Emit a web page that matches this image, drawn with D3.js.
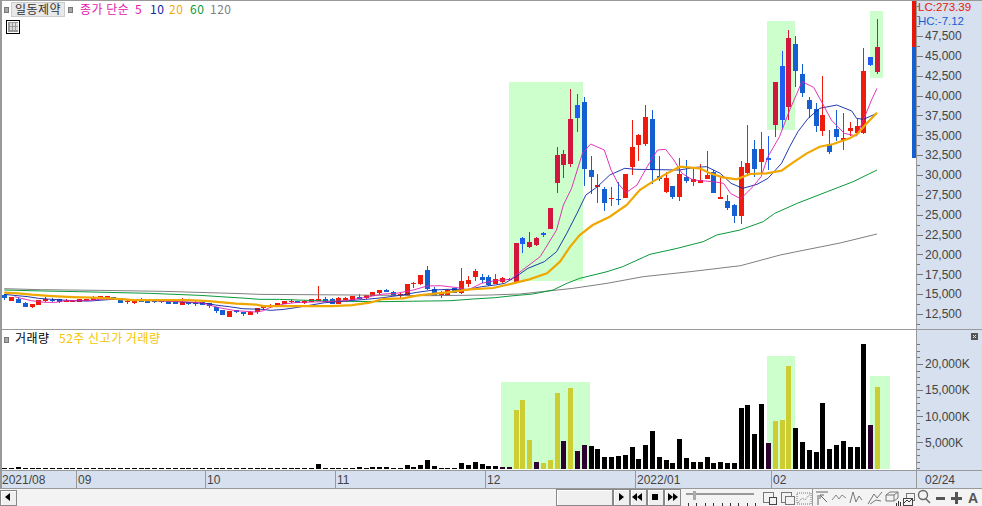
<!DOCTYPE html>
<html><head><meta charset="utf-8">
<script src="https://cdn.jsdelivr.net/npm/d3@7"></script>
<style>
html,body{margin:0;padding:0;background:#fff;overflow:hidden}
svg{display:block}
text{font-family:"Liberation Sans",sans-serif;font-size:12px;fill:#444}
.kr{font-family:"Noto Sans CJK KR",sans-serif;font-size:12px;letter-spacing:.5px}
.axis path{display:none}
.axis line{stroke:#777;shape-rendering:crispEdges}
.axis text{font-family:"Liberation Sans",sans-serif;font-size:12px;fill:#444}
</style></head><body><div id="chart"></div>
<script>
const opens=[14890,14132,14384,13922,13334,13628,14174,14300,14342,14048,
14048,14048,14132,14258,14426,14426,14636,14468,14048,13922,
14258,14132,14216,14174,14132,14132,13670,14006,13922,14006,
13838,13376,12998,12158,12956,12746,12410,12746,13376,13460,
13418,13754,14048,14090,13964,14048,14216,14426,14342,13796,
14384,14258,14636,14510,14762,15140,15518,15224,14888,14888,
16232,16274,18038,15602,14972,14804,15770,15140,16232,17198,
17156,17156,16274,16526,16950,16443,22067,20934,21186,22655,
23201,28992,31259,31385,38813,39191,30629,28489,28237,27020,
27020,27103,31007,33777,33903,37050,29874,27859,28615,27229,
29748,29118,28992,29496,30377,26977,26726,26222,24836,30251,
33273,31636,32097,36294,43723,38561,46493,42716,39442,38309,
35539,33902,35790,34406,35538,35287,35287,44856,42967];
const closes=[14470,14636,13922,13376,13754,14258,14342,14174,14048,14174,
14174,14342,14342,14636,14762,14762,14384,13922,14174,14258,
14174,14048,14090,14048,13796,13796,14048,13796,13796,13670,
13544,12872,12410,12872,12746,12536,12704,13208,13460,13544,
13838,14132,14174,14006,14090,14342,14342,14006,13796,14468,
14510,14720,14510,14846,15266,15476,15308,14762,15014,16274,
16442,17408,15602,14804,15098,15560,15140,16652,16778,17912,
16778,16106,16904,16988,16900,21438,21312,21564,22067,22529,
25803,32518,32644,37050,37176,30755,29748,28741,26474,27146,
26894,30126,33525,35036,37302,30587,29496,29622,27229,30126,
29244,29496,29370,29999,27733,27229,25844,24837,31006,31510,
30755,33273,31972,41709,36924,47248,43094,40323,38309,36168,
37554,32895,34783,34658,35916,36168,43094,43849,46115];
const highs=[14970,14680,14678,13960,13790,14300,14678,14552,14426,14342,
14200,14400,14380,14762,14800,14800,14680,14500,14342,14300,
14510,14342,14342,14258,14174,14150,14468,14040,14216,14030,
13860,13400,13020,12900,12980,12770,12872,13292,13502,13712,
13860,14150,14342,14174,14258,14380,16022,14636,14552,14636,
14636,14740,14972,14870,15290,15500,15644,15392,15182,16300,
16568,17430,18542,15854,15350,15590,15800,18290,17282,18122,
17534,17408,17534,17198,17000,21460,22235,22781,22235,22823,
25830,33525,33147,40828,40198,39820,32392,30126,28531,28531,
29118,30150,36925,35162,38813,38184,32392,30377,28650,32140,
31888,31049,31385,33021,30629,29748,27481,26348,31762,36294,
34406,35413,34909,41750,45612,48256,47500,43975,39820,39064,
42464,35665,38183,37805,36672,37050,45989,44900,49641];
const lows=[14260,14090,13900,13340,13208,13600,14006,14006,13880,13964,
14020,14020,14100,14230,14400,14400,14258,13900,13796,13796,
14006,14006,13922,13922,13770,13760,13650,13670,13544,13650,
13292,12662,12390,12130,12662,12284,12390,12536,12998,13292,
13390,13730,13922,13838,13796,13964,14174,13980,13770,13770,
14258,14240,14342,14384,14740,14930,15290,14740,14552,14860,
15812,16148,15580,14780,14552,14780,15120,15014,15938,16652,
16442,16080,16250,16358,16880,16360,20220,20808,21102,22235,
23180,27733,29622,31049,35414,28615,27607,26474,25467,26096,
26222,27080,30000,31763,33651,28867,29244,27733,26977,26726,
28992,28615,28950,29454,27700,26950,25592,23956,23829,29999,
29789,30293,30629,34783,35790,36924,41121,39820,37134,35413,
34909,32643,34280,33147,34909,35035,35161,43700,42716];
const volumes=[100,100,280,100,100,100,100,100,100,100,
100,100,100,100,100,100,100,100,100,100,
100,100,100,100,100,100,100,100,100,100,
100,100,100,100,100,100,100,100,100,100,
100,100,100,100,100,100,860,100,100,100,
100,100,280,100,280,280,280,100,100,670,
280,670,1630,475,100,100,100,1050,670,1240,
860,475,475,280,280,11230,13150,5470,1240,1050,
1630,14490,5280,15450,3360,4510,4320,3740,2200,2200,
2400,2590,4120,1820,4510,7200,2200,1630,1050,5660,
2010,1240,1240,2200,1050,1240,1050,1050,11610,12190,
6620,12380,4890,9120,9310,19680,7770,5080,3550,3160,
12570,3740,4510,5280,4120,4120,23900,8350,15640];
const newHighVolumeIdx=[75,76,77,79,80,81,83,113,114,115,128];

const ma5Idx=[1.5,2.5,4,6,7.5,9,12,14,17,19,23,26,29,30,32,34,37,38,39,41,43,47,50,53,55.5,57.5,60,62,64,66.5,68,70,72,74.3,76,78.6,81,82,83.2,84.8,86,88,89,90,91.2,92.8,94.3,95.8,97,98.2,99.4,101,104,105.5,106.5,108,109.8,111,112,113.7,115.2,117,118.7,120,121.3,123.2,125,126.3,127.2,128];
const ma5Val=[14678,14468,14174,13964,13964,14174,14174,14342,14426,14258,14132,14048,13922,13628,13208,12914,12746,12914,13334,13754,13964,14048,14174,14594,15014,15098,15518,16022,16064,15812,15518,16358,16700,16863,18038,19717,23075,26222,28321,32728,33903,33147,30629,28951,27775,28741,31049,33147,33231,31888,30209,29370,29160,28951,27691,27000,28529,29789,32307,34826,38183,41751,41037,39022,36924,35245,34909,37553,39442,40911];
const ma10Idx=[0,2,3.5,5,7,10,12.5,14.5,16.5,19,24,27,30,31,33,35,38,39,41,43,45,47,50,53,55.5,58,60.5,63,65,68,70,72,73.4,75.6,76.8,79.2,81,82.5,84,85.3,87,88.8,91,92.7,99,101.4,103,105,106.6,108.3,110.4,112,114,115.2,116.4,117.9,119.6,122.1,124.3,125,126,128];
const ma10Val=[14972,14800,14678,14468,14342,14174,14132,14258,14384,14258,14132,13964,13796,13628,13418,13166,13082,12956,13082,13334,13628,13922,14132,14342,14552,14846,15224,15518,15602,15602,15938,16150,16360,17534,18248,19087,20347,22655,25173,27481,28531,29999,30839,30713,30629,30965,31049,30209,28951,28321,28823,29579,31468,33566,35455,37134,38393,38813,38057,37134,37008,37763];
const ma20Idx=[0,2,4,7,10,13,16,19,27,30,32,34,37,38,48,51,53.6,55.5,58.5,60.5,62.4,65,68.3,71.7,74.6,77,79.6,81.5,83,84.4,86.3,88.8,91.3,93.2,95.1,97.2,99.1,102,103.5,105.4,107.4,109.4,111.8,114,115.5,117.7,119.6,121.6,124,125.2,126.5,128];
const ma20Val=[15182,15098,14930,14762,14636,14552,14426,14258,14258,14132,13964,13796,13670,13502,13502,13628,13922,14384,14468,14804,15014,15224,15602,15770,16360,16863,17618,19087,20976,22445,23704,24753,26222,28111,29160,30209,31049,30839,30209,29706,29454,30125,30209,30545,31468,32727,33566,33902,34616,35245,36504,37847];
const ma60Idx=[0,5.5,11,21.4,28.7,35.6,37.5,40.4,47.3,54.7,65.4,68.7,72,74.2,77.5,80.5,82.5,84.4,88.4,90.7,94.7,98.7,102.5,104.5,107.9,111.3,113,116.3,120.7,124.5,128];
const ma60Val=[15518,15400,15308,15098,14846,14468,14342,14342,14132,14048,14174,14384,14555,14764,15016,15520,16359,16989,17828,18458,20011,20766,21606,22445,23075,24123,25172,26432,27900,29160,30628];
const ma120Idx=[0,5.5,14,23.5,35,37.5,52,62.4,71,75.6,83.4,88.4,93.7,100.6,108,113.8,116.7,122.6,128];
const ma120Val=[15686,15560,15476,15350,15056,14972,14888,14804,14888,15016,15730,16359,17199,17828,18584,19928,20432,21439,22572];

const priceTicks=[12500,15000,17500,20000,22500,25000,27500,30000,32500,35000,37500,40000,42500,45000,47500];
const priceMinor=[11250,13750,16250,18750,21250,23750,26250,28750,31250,33750,36250,38750,41250,43750,46250,48750,50000,51250];
const volumeTicks=[5000,10000,15000,20000];
const volumeMinor=[0,1250,2500,3750,6250,7500,8750,11250,12500,13750,16250,17500,18750,21250,22500,23750];
const dateLabels=["2021/08","09","10","11","12","2022/01","02"];
const dateIdx=[0,10.5,29.5,48.5,70.5,92.5,112.5];
const lastDate="02/24";
const priceZones=[[74,84.9,16692,41709],[111.87,115.97,35666,49390],[126.96,128.87,42212,50648]];
const volumeZones=[[72.85,85.9,16550],[111.87,115.97,21530],[126.96,129.9,17700]];
const rangeBar=[51900,46115,32140];

const W=982,H=506;
const svg=d3.select("#chart").append("svg").attr("width",W).attr("height",H);
const x=d3.scaleLinear().domain([0,128]).range([4.3,877]);
const y=d3.scaleLinear().domain([12500,47500]).range([314,36]);
const yv=d3.scaleLinear().domain([0,20000]).range([468.4,364]);
const n=opens.length;
const inZone=(zs,i)=>zs.some(z=>i>=z[0]&&i<=z[1]);

const rect=(g,a,b,c,d,f)=>g.append("rect").attr("x",a).attr("y",b).attr("width",c).attr("height",d).attr("fill",f).attr("shape-rendering","crispEdges");
const bg=svg.append("g");
rect(bg,0,0,W,H,"#fff");

// highlight zones
const zoneFill="#ccffcc";
svg.append("g").selectAll("rect").data(priceZones).join("rect")
 .attr("x",d=>x(d[0])).attr("width",d=>x(d[1])-x(d[0]))
 .attr("y",d=>y(d[3])).attr("height",d=>y(d[2])-y(d[3])).attr("fill",zoneFill).attr("shape-rendering","crispEdges");
svg.append("g").selectAll("rect").data(volumeZones).join("rect")
 .attr("x",d=>x(d[0])).attr("width",d=>x(d[1])-x(d[0]))
 .attr("y",d=>yv(d[2])).attr("height",d=>469-yv(d[2])).attr("fill",zoneFill).attr("shape-rendering","crispEdges");

// candles
const idx=d3.range(n);
const cColor=i=>{const up=closes[i]>=opens[i],z=inZone(priceZones,i);
 return up?(z?"#d2173f":"#ee1c0c"):(z?"#1f5cf5":"#1560d0");};
const cg=svg.append("g").attr("shape-rendering","crispEdges");
cg.selectAll("line").data(idx).join("line")
 .attr("x1",i=>Math.round(x(i))+.5).attr("x2",i=>Math.round(x(i))+.5)
 .attr("y1",i=>y(highs[i])).attr("y2",i=>y(lows[i])).attr("stroke",cColor).attr("stroke-width",1);
cg.selectAll("rect").data(idx).join("rect")
 .attr("x",i=>Math.round(x(i))-2).attr("width",5)
 .attr("y",i=>y(Math.max(opens[i],closes[i])))
 .attr("height",i=>Math.max(1.5,Math.abs(y(opens[i])-y(closes[i]))))
 .attr("fill",cColor);

// moving averages
const lineGen=d3.line().x(d=>x(d[0])).y(d=>y(d[1]));
[[ma120Idx,ma120Val,"#808080",1],[ma60Idx,ma60Val,"#0a9a3a",1],[ma10Idx,ma10Val,"#0a25a5",.9],[ma5Idx,ma5Val,"#e01fae",.9],[ma20Idx,ma20Val,"#f0a800",2.2]]
.forEach(([a,b,c,w])=>svg.append("path").datum(a.map((v,k)=>[v,b[k]])).attr("d",lineGen).attr("fill","none").attr("stroke",c).attr("stroke-width",w));

// volume bars
svg.append("g").attr("shape-rendering","crispEdges").selectAll("rect").data(idx).join("rect")
 .attr("x",i=>Math.round(x(i))-2).attr("width",5)
 .attr("y",i=>yv(volumes[i])).attr("height",i=>469-yv(volumes[i]))
 .attr("fill",i=>newHighVolumeIdx.includes(i)?"#cccc33":inZone(volumeZones,i)?"#2e0030":"#000");

// right panel, x strip, toolbar
rect(svg,916,0,66,471,"#d6e0ee");
rect(svg,0,471,W,17,"#d6e0ee");
rect(svg,0,489,W,17,"#f3f3f3");
rect(svg,0,0,W,1,"#999");
rect(svg,0,1,2,487,"#999");
rect(svg,0,329,W,1,"#999");
rect(svg,0,470,W,1,"#999");
rect(svg,0,488,W,1,"#999");
rect(svg,916,0,1,488,"#999");

// range bar + LC/HC
rect(svg,912,y(rangeBar[0]),3.5,y(rangeBar[1])-y(rangeBar[0]),"#e8170b");
rect(svg,912,y(rangeBar[1]),3.5,y(rangeBar[2])-y(rangeBar[1]),"#1560d0");
svg.append("text").attr("x",918).attr("y",11).style("font-size","11.5px").style("fill","#e8170b").text("LC:273.39");
svg.append("text").attr("x",918).attr("y",25).style("font-size","11.5px").style("fill","#1560d0").text("HC:-7.12");

// axes
const fmt=d3.format(",");
svg.append("g").attr("class","axis").attr("transform","translate(917,0)")
 .call(d3.axisRight(y).tickValues(priceTicks).tickSize(6).tickPadding(2).tickFormat(fmt));
svg.append("g").attr("class","axis").attr("transform","translate(917,0)")
 .call(d3.axisRight(y).tickValues(priceMinor).tickSize(3).tickFormat(""));
svg.append("g").attr("class","axis").attr("transform","translate(917,0)")
 .call(d3.axisRight(yv).tickValues(volumeTicks).tickSize(6).tickPadding(2).tickFormat(d=>fmt(d)+"K"));
svg.append("g").attr("class","axis").attr("transform","translate(917,0)")
 .call(d3.axisRight(yv).tickValues(volumeMinor).tickSize(3).tickFormat(""));

// date strip
const dg=svg.append("g");
dateIdx.forEach((d,k)=>{
 if(k>0) rect(dg,Math.round(x(d)),471,1,17,"#999");
 dg.append("text").attr("x",k>0?Math.round(x(d))+2:2).attr("y",484).text(dateLabels[k]);
});
dg.append("text").attr("x",925).attr("y",484).text(lastDate);

// headers
const chip=(g,a,b)=>{g.append("rect").attr("x",a+.5).attr("y",b+.5).attr("width",4).attr("height",5).attr("fill","#a8a8a8").attr("stroke","#777").attr("shape-rendering","crispEdges");};
chip(svg,4,7);chip(svg,68,7);chip(svg,4,337);
svg.append("rect").attr("x",11.5).attr("y",2.5).attr("width",53).attr("height",14).attr("fill","#e8e8e8").attr("stroke","#ccc");
const lab=(t,a,b,c)=>svg.append("text").attr("class","kr").attr("x",a).attr("y",b).style("fill",c).text(t);
lab("일동제약",15,14,"#333");
lab("종가 단순",80,14,"#e020b0");
lab("5",135,14,"#e020b0");
lab("10",150,14,"#0a25a5");
lab("20",169,14,"#f0a800");
lab("60",190,14,"#0a9a3a");
lab("120",210,14,"#808080");
lab("거래량",15,343,"#000");
lab("52주 신고가 거래량",59,343,"#f5c400");
// table icon
svg.append("rect").attr("x",6.5).attr("y",20.5).attr("width",13).attr("height",13).attr("fill","#fff").attr("stroke","#000").attr("shape-rendering","crispEdges");
rect(svg,8,22,10,10,"#999");
[[10,23],[13,23],[16,23]].forEach(p=>rect(svg,p[0],p[1],2,3,"#ddd"));
[[10,27],[13,27],[16,27]].forEach(p=>rect(svg,p[0],p[1],2,3,"#ddd"));

// close box on volume pane
rect(svg,971,333,7,7,"#555");
svg.append("path").attr("d","M973 335l3 3m0-3l-3 3").attr("stroke","#ddd").attr("fill","none");

// toolbar
const btn=(a,b,w,h,fill)=>{svg.append("rect").attr("x",a+.5).attr("y",b+.5).attr("width",w).attr("height",h).attr("fill",fill||"#f0f0f0").attr("stroke","#888").attr("shape-rendering","crispEdges");
 rect(svg,a+1,b+1,w-1,1,"#fff");rect(svg,a+1,b+1,1,h-1,"#fff");};
btn(0,490,16,15);
const tri=(a,b,dir)=>svg.append("path").attr("d",`M${a} ${b-4}L${a+dir*5} ${b}L${a} ${b+4}Z`).attr("fill","#000");
tri(10,497,-1);
btn(556,489,56,16);
btn(613,489,16,16);tri(619,497,1);
btn(630,489,16,16);tri(637,497,-1);tri(642,497,-1);
btn(647,489,16,16);rect(svg,652,494,6,6,"#000");
btn(664,489,16,16);tri(668,497,1);tri(673,497,1);
rect(svg,686,493,68,2,"#999");
rect(svg,693,491,3,9,"#aaa");
d3.range(9).forEach(k=>rect(svg,688+k*8.4,503,1,3,"#333"));

const ic=svg.append("g").attr("fill","none").attr("stroke","#777").attr("stroke-width",1);
const sr=(a,b,w,h,s)=>ic.append("rect").attr("x",a+.5).attr("y",b+.5).attr("width",w).attr("height",h).attr("stroke",s||"#777").attr("fill","#f3f3f3").attr("shape-rendering","crispEdges");
sr(763,492,10,10);sr(769,497,7,7,"#444");
sr(781,492,10,10);sr(785,496,9,8);
ic.append("path").attr("d","M797 493h14v11h-14zM798 503l4-5 3 2 5-6").attr("stroke-dasharray","1 1");
rect(svg,812,489,1,17,"#999");
ic.append("path").attr("d","M816 492h12M818 505v-10M820 495l7 7M820 495v4M820 495h4").attr("stroke","#666");
ic.append("path").attr("d","M832 500l4-5 3 4 3-4 4 3").attr("stroke","#888");
ic.append("path").attr("d","M850 503l3-11 3 10 3-6 3 4").attr("stroke","#777");
ic.append("path").attr("d","M868 504l6-10 3 4 5-6M870 504l6-4 5 1").attr("stroke","#777");
ic.append("path").attr("d","M886 501v-6l4-3h8v6l-4 3zM886 495h8v6M894 495l4-3");
[[896,503,3],[898,501,5],[900,502,4]].forEach(p=>rect(svg,p[0],p[1],1,p[2],"#333"));
sr(906,493,8,7);sr(903,498,9,7,"#444");
ic.append("path").attr("d","M904 503l3-3 2 2 3-3").attr("stroke","#333");
ic.append("circle").attr("cx",923).attr("cy",495).attr("r",4.5).attr("stroke","#666").attr("stroke-width",1.4);
ic.append("path").attr("d","M926 499l4 4").attr("stroke","#666").attr("stroke-width",1.6);
rect(svg,936,497,9,2.5,"#555");
rect(svg,951,497,11,2.5,"#555");rect(svg,955,492,2.5,12,"#555");
svg.append("text").attr("x",968).attr("y",503).style("font-size","14px").style("font-weight","bold").style("fill","#555").text("A");
</script></body></html>
